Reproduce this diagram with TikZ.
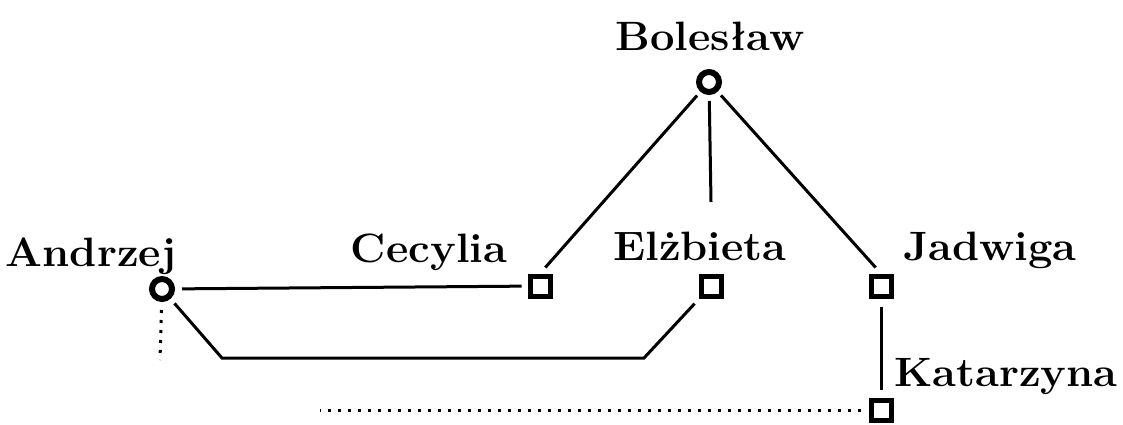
\documentclass[tikz,border=0pt]{standalone}
\usepackage{graphicx}
\newcommand{\wide}[1]{\scalebox{1.06}[1]{#1}}
\begin{document}
\begin{tikzpicture}[x=1pt,y=-1pt,
  person/.style={circle,draw,line width=6pt,minimum size=20pt,inner sep=0pt},
  child/.style={rectangle,draw,line width=5pt,minimum size=20pt,inner sep=0pt},
  lbl/.style={anchor=base,font=\fontsize{41}{47}\selectfont\bfseries,inner sep=0pt},
  rel/.style={line width=3pt},
  dots/.style={line width=3pt,dash pattern=on 3pt off 7pt}]
\useasboundingbox (0,0) rectangle (1123,424);
\node[person] (B) at (709,82) {};
\node[person] (A) at (162,289) {};
\node[child] (C) at (540,286) {};
\node[child] (E) at (711,286) {};
\node[child] (J) at (881,286) {};
\node[child] (K) at (881,410) {};
\node[lbl] (bL) at (710,50) {\wide{Bolesław}};
\node[lbl] (aL) at (91,266) {\wide{Andrzej}};
\node[lbl] (cL) at (429,262) {\wide{Cecylia}};
\node[lbl] (eL) at (700,260) {\wide{Elżbieta}};
\node[lbl] (jL) at (990,260) {\wide{Jadwiga}};
\node[lbl] (kL) at (1006,386) {\wide{Katarzyna}};
\coordinate (eTop) at (711,202);
\coordinate (k1) at (222,358);
\coordinate (k2) at (644,358);
\coordinate (aEnd) at (160,360);
\coordinate (kEnd) at (320,410);
\draw[rel,shorten <=5pt,shorten >=8pt] (B) -- (C.north);
\draw[rel,shorten <=6pt] (B) -- (eTop);
\draw[rel,shorten <=5pt,shorten >=8pt] (B) -- (J.north);
\draw[rel,shorten <=7pt,shorten >=6pt] (A) -- (C);
\draw[rel,shorten <=6pt,shorten >=7pt] (A) -- (k1) -- (k2) -- (E);
\draw[rel,shorten <=8pt,shorten >=8pt] (J) -- (K);
\draw[dots,shorten <=8pt] (A) -- (aEnd);
\draw[dots,shorten <=8pt] (K) -- (kEnd);
\end{tikzpicture}
\end{document}
